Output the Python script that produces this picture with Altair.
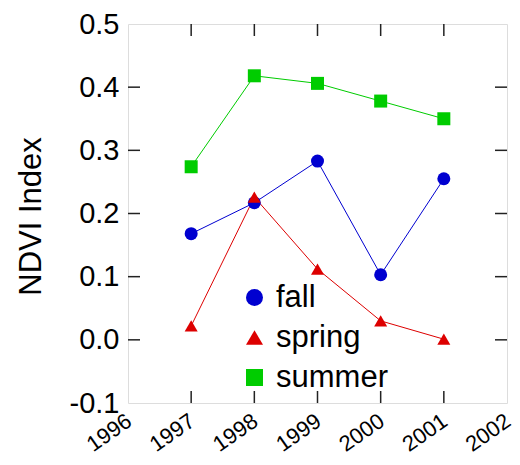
import altair as alt
import pandas as pd

# ---- data ----
years = [1997, 1998, 1999, 2000, 2001]
fall = [0.168, 0.217, 0.283, 0.103, 0.255]
spring = [0.022, 0.226, 0.112, 0.030, 0.001]
summer = [0.274, 0.418, 0.406, 0.378, 0.350]
series = ["fall", "spring", "summer"]
colors = ["#0000D0", "#DD0000", "#00CC00"]
shapes = ["circle", "triangle-up", "square"]
x_ticks = [1996, 1997, 1998, 1999, 2000, 2001, 2002]
y_ticks = [-0.1, 0.0, 0.1, 0.2, 0.3, 0.4, 0.5]
inner_y_ticks = [0.0, 0.1, 0.2, 0.3, 0.4]

rows = []
for s, vals in zip(series, [fall, spring, summer]):
    for yr, v in zip(years, vals):
        rows.append({"year": yr, "ndvi": v, "season": s})
df = pd.DataFrame(rows)
xt = pd.DataFrame({"year": years})
yt = pd.DataFrame({"v": inner_y_ticks})

FONT = "Liberation Sans"
W = 379
H = 379
TL = 12  # inward tick length

xscale = alt.Scale(domain=[1996, 2002], nice=False, zero=False)
yscale = alt.Scale(domain=[-0.1, 0.5], nice=False, zero=False)
cscale = alt.Scale(domain=series, range=colors)
sscale = alt.Scale(domain=series, range=shapes)

xaxis = alt.Axis(values=x_ticks, format="d", labelAngle=325, labelFontSize=22,
                 labelFont=FONT, labelColor="black", labelPadding=7,
                 labelAlign="right", labelBaseline="top", labelOffset=-5,
                 ticks=False, tickSize=0, domain=False, grid=False,
                 labelFlush=False, labelOverlap=False, title=None)
yaxis = alt.Axis(values=y_ticks,
                 labelExpr="datum.value < 0 ? '-' + format(-datum.value, '.1f') : format(datum.value, '.1f')",
                 labelFontSize=29, labelFont=FONT, labelColor="black", labelPadding=9,
                 ticks=False, tickSize=0, domain=False, grid=False,
                 labelFlush=False, labelOverlap=False,
                 title="NDVI Index", titleFont=FONT, titleFontSize=31,
                 titleFontWeight="normal", titleColor="black", titleAngle=270,
                 titleX=-88, titleY=192, titleBaseline="alphabetic", titleAlign="center")

legend = alt.Legend(orient="none", legendX=111, legendY=258, title=None,
                    symbolSize=289, symbolStrokeWidth=0, symbolOpacity=1,
                    labelFontSize=31, labelFont=FONT, labelColor="black",
                    rowPadding=8, labelOffset=6, padding=0)

X = alt.X("year:Q", scale=xscale, axis=xaxis)
Y = alt.Y("ndvi:Q", scale=yscale, axis=yaxis)

line_layers = [
    alt.Chart(df).transform_filter(alt.datum.season == s)
    .mark_line(strokeWidth=1, color=c).encode(x=X, y=Y)
    for s, c in zip(series, colors)
]
points = alt.Chart(df).mark_point(filled=True, size=169, opacity=1).encode(
    x=X, y=Y,
    color=alt.Color("season:N", scale=cscale, legend=legend),
    shape=alt.Shape("season:N", scale=sscale, legend=legend),
)

tick_style = dict(color="#222222", strokeWidth=1.5)
xtick_enc = alt.X("year:Q", scale=xscale, axis=xaxis)
ytick_enc = alt.Y("v:Q", scale=yscale, axis=yaxis)
bottom_ticks = alt.Chart(xt).mark_rule(**tick_style).encode(
    x=xtick_enc, y=alt.value(H), y2=alt.value(H - TL))
top_ticks = alt.Chart(xt).mark_rule(**tick_style).encode(
    x=xtick_enc, y=alt.value(0), y2=alt.value(TL))
left_ticks = alt.Chart(yt).mark_rule(**tick_style).encode(
    y=ytick_enc, x=alt.value(0), x2=alt.value(TL))
right_ticks = alt.Chart(yt).mark_rule(**tick_style).encode(
    y=ytick_enc, x=alt.value(W), x2=alt.value(W - TL))

chart = alt.layer(
    bottom_ticks, top_ticks, left_ticks, right_ticks, *line_layers, points
).properties(
    width=W, height=H,
    padding={"left": 120, "top": 16, "right": 5, "bottom": 54},
    autosize=alt.AutoSizeParams(type="none"),
).configure_view(
    stroke="#333333", strokeWidth=1.5
).configure(
    background="white"
)

chart.save("out.html", embed_options={"renderer": "svg", "actions": False})
